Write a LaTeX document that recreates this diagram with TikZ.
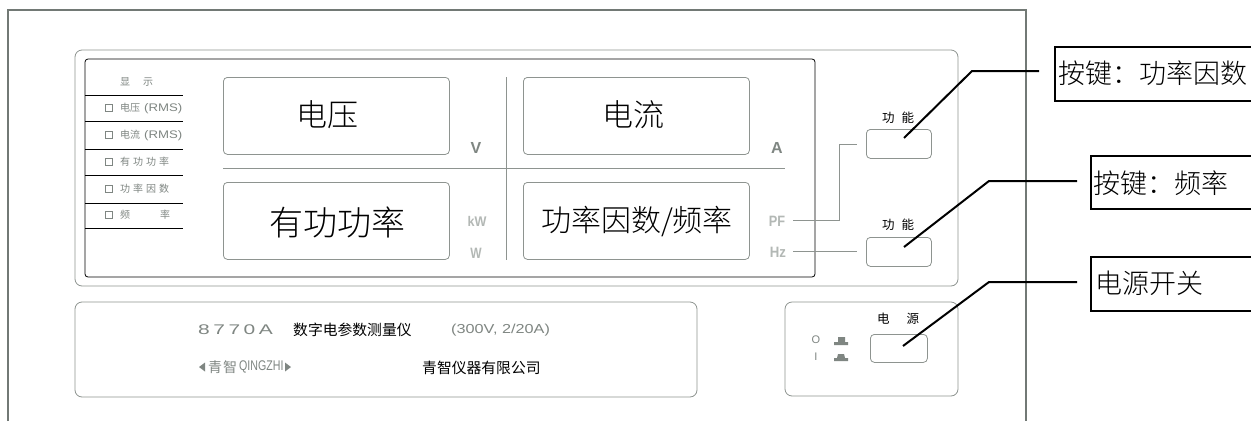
\documentclass[tikz,border=0pt]{standalone}
\usepackage{fontspec}
\newfontfamily\cjk{Noto Sans CJK SC Light}
\newfontfamily\cjkr{Noto Sans CJK SC}
\setsansfont{Liberation Sans}
\definecolor{pg}{HTML}{8E9490}
\definecolor{tg}{HTML}{7F8682}
\definecolor{lg}{HTML}{B3B8B5}
\newcommand{\sx}[2]{\scalebox{#1}[1]{#2}}
\newcommand{\rms}{{\sffamily\fontsize{11}{11}\selectfont\sx{1.2}{(RMS)}}}
\tikzset{
 x=1pt,y=-1pt,
 panel/.style={draw=pg,line width=.8pt,rounded corners=7pt},
 disp/.style={draw=pg,line width=.8pt,rounded corners=4pt},
 rule/.style={draw=pg,line width=.8pt},
 blk/.style={draw=black,line width=.8pt},
 lead/.style={draw=black,line width=2pt},
 callout/.style={draw=black,line width=2pt},
 big/.style={font=\cjk\fontsize{31}{31}\selectfont,text=black,inner sep=0},
 lab/.style={font=\cjk\fontsize{27}{27}\selectfont,text=black,inner sep=0,anchor=west},
 tiny/.style={font=\cjkr\fontsize{10}{10}\selectfont,text=tg,inner sep=0,anchor=west},
 small/.style={font=\cjkr\fontsize{12.5}{12.5}\selectfont,text=black,inner sep=0},
 cn/.style={font=\cjkr\fontsize{14.8}{14.8}\selectfont,text=black,inner sep=0},
 unit/.style={font=\sffamily\bfseries\fontsize{16}{16}\selectfont,text=tg,inner sep=0},
 unitb/.style={font=\sffamily\bfseries\fontsize{15}{15}\selectfont,text=lg,inner sep=0},
}
\begin{document}
\begin{tikzpicture}
\useasboundingbox (0,0) rectangle (1251,421);
\fill[white] (0,0) rectangle (1251,421);
% outer frame
\draw[draw=tg!90!black,line width=1.1pt] (8,421) -- (8,10) -- (1026,10) -- (1026,421);
% panels
\draw[panel] (75,50) rectangle (958,286);
\draw[panel] (75,302) rectangle (697,397);
\draw[panel] (785,302) rectangle (958,396);
\draw[blk,rounded corners=3pt] (85,59) rectangle (815,277);
% displays
\node[disp,minimum width=226pt,minimum height=77pt,anchor=north west] (dv) at (223,77) {};
\node[disp,minimum width=226pt,minimum height=77pt,anchor=north west] (di) at (523,77) {};
\node[disp,minimum width=226pt,minimum height=77pt,anchor=north west] (dp) at (223,182) {};
\node[disp,minimum width=226pt,minimum height=77pt,anchor=north west] (df) at (523,182) {};
\node[big] at (327,115) {电压};
\node[big] at (633,115) {电流};
\node[big,font=\cjk\fontsize{34}{34}\selectfont] at (337,222) {有功功率};
\node[big,font=\cjk\fontsize{30}{30}\selectfont] at (637,222) {功率因数/频率};
\draw[rule] (223,168) -- (785,168);
\draw[rule] (506,77) -- (506,260);
% legend
\foreach \y in {95,121,149,175,203,228} \draw[blk] (85,\y) -- (183,\y);
\node[tiny] at (120,82) {显\hspace{13pt}示};
\foreach \y/\t in {108/电压\hspace{4pt}\rms,135/电流\hspace{4pt}\rms,162/有\hspace{3pt}功\hspace{3pt}功\hspace{3pt}率,189/功\hspace{3pt}率\hspace{3pt}因\hspace{3pt}数,215/频\hspace{30pt}率}{
  \draw[draw=tg,line width=.7pt] (105.5,\y-3.5) rectangle (112.5,\y+3.5);
  \node[tiny] at (120,\y) {\t};
}
% units
\node[unit] at (476,147.5) {V};
\node[unit] at (777,147.5) {A};
\node[unitb,font=\sffamily\bfseries\fontsize{14}{14}\selectfont] at (477,221) {\sx{.9}{kW}};
\node[unitb] at (476,253) {\sx{.8}{W}};
\node[unitb] at (777,221) {\sx{.85}{PF}};
\node[unitb] at (778,252) {\sx{.88}{Hz}};
% buttons
\node[disp,minimum width=65pt,minimum height=29pt,anchor=north west] (b1) at (866,129) {};
\node[disp,minimum width=65pt,minimum height=29pt,anchor=north west] (b2) at (866,237) {};
\node[disp,minimum width=57pt,minimum height=28pt,anchor=north west] (b3) at (870,334) {};
\node[small] at (898,118) {功\hspace{7pt}能};
\node[small] at (898,225) {功\hspace{7pt}能};
\node[small] at (898,319) {电\hspace{17pt}源};
\coordinate (pf) at (793,220);
\coordinate (pe) at (857,144);
\coordinate (hz) at (793,251);
\coordinate (he) at (857,251);
\draw[rule] (pf) -- (839,220) -- (839,144) -- (pe);
\draw[rule] (hz) -- (he);
% power symbols
\node[font=\sffamily\fontsize{11}{11}\selectfont,text=tg,inner sep=0] at (816,340) {O};
\node[font=\sffamily\fontsize{11}{11}\selectfont,text=tg,inner sep=0] at (816,357) {I};
\fill[tg] (834,345) -- (848,345) -- (848,342) -- (845,342) -- (845,337) -- (838,337) -- (838,342) -- (834,342) -- cycle;
\fill[tg] (834,361) -- (848,361) -- (848,358) -- (845,358) -- (844,354) -- (838,354) -- (837,358) -- (834,358) -- cycle;
% name plate
\node[font=\sffamily\fontsize{14}{14}\selectfont,text=tg,inner sep=0,anchor=west] at (198,330) {\sx{1.5}{8\,7\,7\,0\,A}};
\node[cn,anchor=west] at (293,330) {数字电参数测量仪};
\node[font=\sffamily\fontsize{13}{13}\selectfont,text=tg,inner sep=0,anchor=west] at (451,330) {\sx{1.25}{(300V, 2/20A)}};
\node[font=\cjkr\fontsize{14}{14}\selectfont,text=tg,inner sep=0,anchor=west] at (208,367) {青\hspace{1pt}智};
\node[font=\sffamily\fontsize{14}{14}\selectfont,text=tg,inner sep=0,anchor=west] at (239,367) {\sx{.76}{QINGZHI}};
\fill[tg] (199,367) -- (205,362.5) -- (205,371.5) -- cycle;
\fill[tg] (291,367) -- (285,362.5) -- (285,371.5) -- cycle;
\node[cn,anchor=west] at (422,368) {青智仪器有限公司};
% callouts
\draw[callout] (1251,47) -- (1055,47) -- (1055,101) -- (1251,101);
\draw[callout] (1251,156) -- (1091,156) -- (1091,209) -- (1251,209);
\draw[callout] (1251,257) -- (1091,257) -- (1091,311) -- (1251,311);
\node[lab] (c1) at (1058,73) {按键：功率因数};
\node[lab] (c2) at (1093,183) {按键：频率};
\node[lab] (c3) at (1095,283) {电源开关};
\coordinate (l1) at (1039,71);
\coordinate (l2) at (1077,181);
\coordinate (l3) at (1077,282);
\coordinate (e1) at (904,138);
\coordinate (e2) at (904,247);
\coordinate (e3) at (903,346);
\draw[lead] (l1) -- (972,71) -- (e1);
\draw[lead] (l2) -- (989,181) -- (e2);
\draw[lead] (l3) -- (989,282) -- (e3);
\end{tikzpicture}
\end{document}
